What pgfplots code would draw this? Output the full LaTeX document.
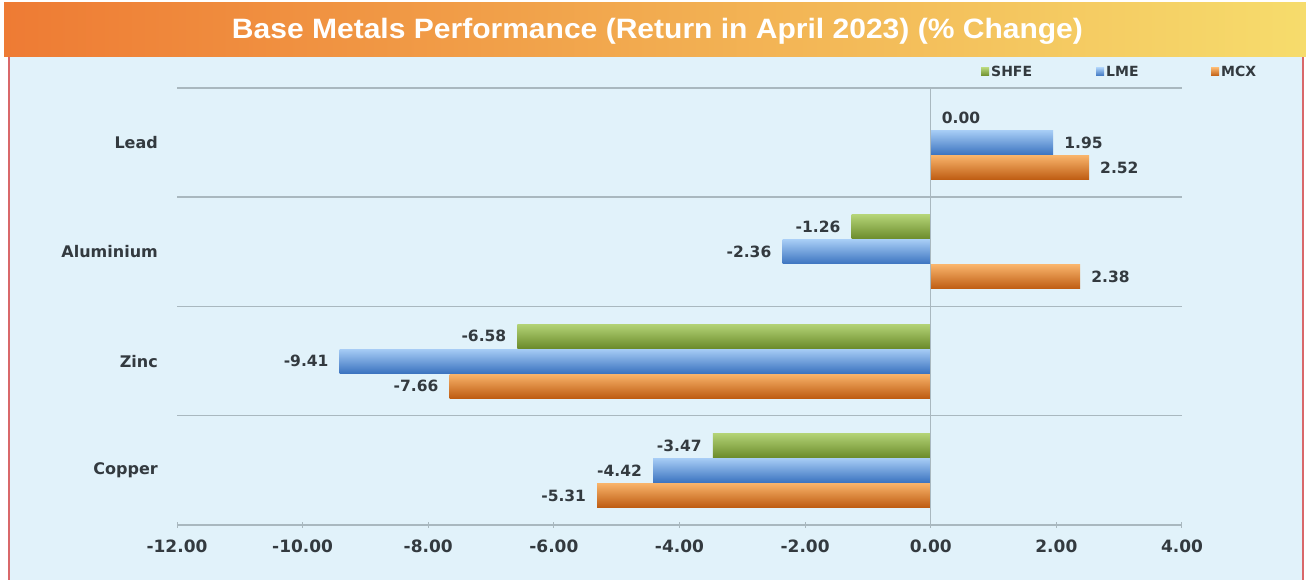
\documentclass[border=0pt]{standalone}
\usepackage{pgfplots}
\pgfplotsset{compat=1.18}
\usepackage{fontspec}
\setmainfont{DejaVu Sans}
\newfontfamily\titlefont{Liberation Sans}
\definecolor{bgblue}{HTML}{E1F2FA}
\definecolor{bordred}{HTML}{D9686A}
\definecolor{tleft}{HTML}{EE7B34}
\definecolor{tmid}{HTML}{F19A46}
\definecolor{tright}{HTML}{F6DC6C}
\definecolor{gridgray}{HTML}{A9B8BF}
\definecolor{labgray}{HTML}{333A3F}
\definecolor{shfe}{HTML}{8CB33F}
\definecolor{shfeT}{HTML}{B3D376}
\definecolor{shfeB}{HTML}{6C8C2C}
\definecolor{lme}{HTML}{5596E6}
\definecolor{lmeT}{HTML}{A6CCF5}
\definecolor{lmeB}{HTML}{3C74C0}
\definecolor{mcx}{HTML}{EC7C22}
\definecolor{mcxT}{HTML}{F8B36A}
\definecolor{mcxB}{HTML}{BE5C12}
\pgfplotsset{
  shfebar/.style={xbar, bar shift=25pt, draw=none, top color=shfeT, middle color=shfe, bottom color=shfeB},
  lmebar/.style={xbar, bar shift=0pt, draw=none, top color=lmeT, middle color=lme, bottom color=lmeB},
  mcxbar/.style={xbar, bar shift=-25pt, draw=none, top color=mcxT, middle color=mcx, bottom color=mcxB},
}
\begin{document}
\begin{tikzpicture}[x=1pt,y=1pt]
\useasboundingbox (0,0) rectangle (1306,580);
\fill[white] (0,0) rectangle (1306,580);
\fill[bgblue] (9,0) rectangle (1303,523);
\draw[bordred, line width=1.5pt] (9,0) -- (9,523);
\draw[bordred, line width=1.5pt] (1303,0) -- (1303,523);
\shade[left color=tleft, middle color=tmid, right color=tright] (4,523) rectangle (1306,577);
\node[text=white, inner sep=0pt] at (657.5,549) {\resizebox{851pt}{\height}{\fontsize{28}{28}\selectfont\titlefont\bfseries Base Metals Performance (Return in April 2023) (\% Change)}};
\begin{axis}[
  at={(177pt,55pt)}, anchor=south west,
  scale only axis, width=1005pt, height=437pt,
  xmin=-12, xmax=4, ymin=-0.5, ymax=3.5,
  xtick={-12,-10,...,4},
  ytick={0,1,2,3},
  yticklabels={Copper,Zinc,Aluminium,Lead},
  minor ytick={-0.5,0.5,1.5,2.5,3.5},
  yminorgrids,
  minor grid style={gridgray, line width=1.5pt},
  separate axis lines,
  axis x line*=bottom,
  axis y line*=left,
  x axis line style={gridgray, line width=1.5pt},
  y axis line style={draw=none},
  xtick pos=bottom,
  tick align=center,
  major tick length=6pt,
  minor tick length=0pt,
  y tick style={draw=none},
  x tick style={gridgray, line width=1pt},
  xticklabel={\pgfmathprintnumber[fixed,fixed zerofill,precision=2,assume math mode=true]{\tick}},
  xticklabel style={font=\fontsize{17}{17}\selectfont\bfseries, text=labgray, inner sep=0pt, yshift=-12pt},
  yticklabel style={font=\fontsize{16}{16}\selectfont\bfseries, text=labgray, inner sep=0pt, xshift=-13pt},
  xbar,
  bar width=24pt,
  nodes near coords={\pgfmathprintnumber[fixed,fixed zerofill,precision=2,assume math mode=true]{\pgfplotspointmeta}},
  every node near coord/.append style={font=\fontsize{15.5}{15.5}\selectfont\bfseries, text=labgray, inner xsep=11pt, inner ysep=0pt},
  legend columns=3,
  legend cell align=left,
  legend style={at={(0.797,1.0366)}, anchor=west, draw=none, fill=none,
    font=\fontsize{14}{14}\selectfont\bfseries, text=labgray,
    /tikz/every even column/.append style={column sep=55pt}},
  legend image code/.code={\fill[#1] (0pt,-4pt) rectangle (8pt,4pt);},
  clip=false,
]
% first bar of each series (carries the legend entry)
\addplot[shfebar] coordinates {(0.00,3)};
\addlegendentry{\makebox[48pt][l]{SHFE}}
\addplot[lmebar] coordinates {(1.95,3)};
\addlegendentry{\makebox[48pt][l]{LME}}
\addplot[mcxbar] coordinates {(2.52,3)};
\addlegendentry{\makebox[48pt][l]{MCX}}
% remaining bars, one plot each so that each bar gets its own shading
\addplot[shfebar, forget plot] coordinates {(-1.26,2)};
\addplot[shfebar, forget plot] coordinates {(-6.58,1)};
\addplot[shfebar, forget plot] coordinates {(-3.47,0)};
\addplot[lmebar, forget plot] coordinates {(-2.36,2)};
\addplot[lmebar, forget plot] coordinates {(-9.41,1)};
\addplot[lmebar, forget plot] coordinates {(-4.42,0)};
\addplot[mcxbar, forget plot] coordinates {(2.38,2)};
\addplot[mcxbar, forget plot] coordinates {(-7.66,1)};
\addplot[mcxbar, forget plot] coordinates {(-5.31,0)};
\draw[gridgray, line width=1.5pt] (axis cs:0,-0.5) -- (axis cs:0,3.5);
\end{axis}
\end{tikzpicture}
\end{document}
